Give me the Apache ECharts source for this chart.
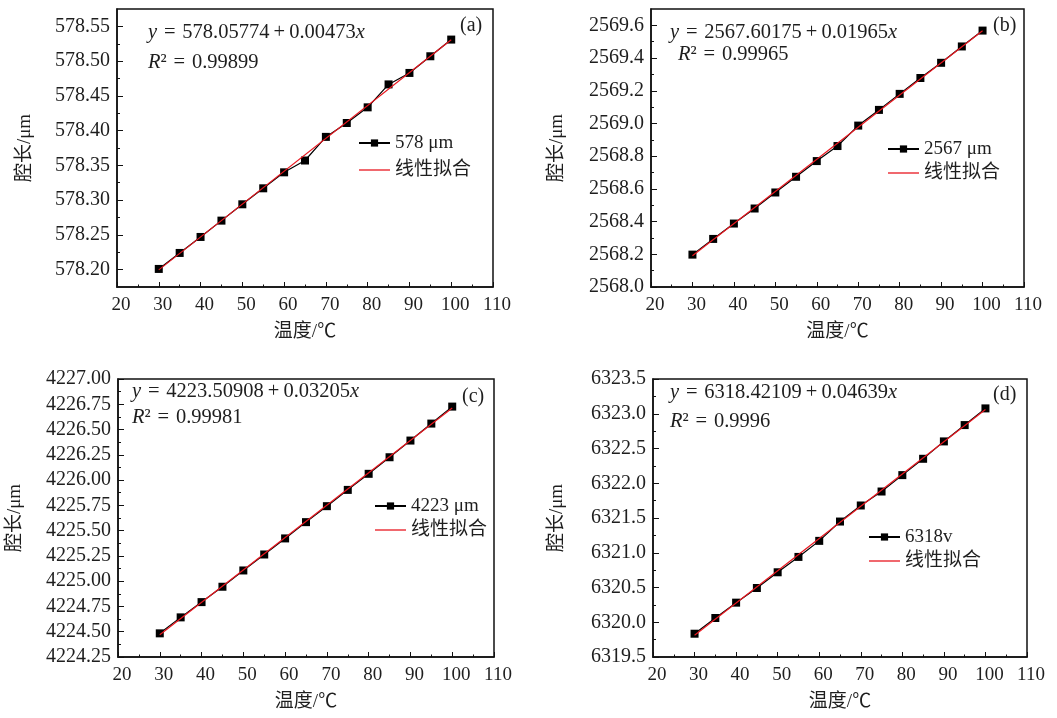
<!DOCTYPE html>
<html>
<head>
<meta charset="utf-8">
<script src="https://cdn.jsdelivr.net/npm/echarts@6/dist/echarts.min.js"></script>
<style>
html,body{margin:0;padding:0;background:#fff;}
#c{width:1057px;height:718px;}
</style>
</head>
<body>
<div id="c"></div>
<script>
// ---- data ----
const temps = [30, 35, 40, 45, 50, 55, 60, 65, 70, 75, 80, 85, 90, 95, 100];
const cavityA = [578.201, 578.224, 578.247, 578.2705, 578.294, 578.317, 578.340, 578.357, 578.391, 578.411, 578.4335, 578.4665, 578.483, 578.507, 578.531];
const cavityB = [2568.198, 2568.294, 2568.388, 2568.480, 2568.578, 2568.674, 2568.770, 2568.862, 2568.987, 2569.083, 2569.181, 2569.278, 2569.371, 2569.471, 2569.568];
const cavityC = [4224.484, 4224.642, 4224.793, 4224.945, 4225.106, 4225.264, 4225.423, 4225.584, 4225.742, 4225.903, 4226.062, 4226.226, 4226.391, 4226.559, 4226.727];
const cavityD = [6319.835, 6320.061, 6320.282, 6320.493, 6320.719, 6320.940, 6321.171, 6321.449, 6321.680, 6321.881, 6322.117, 6322.352, 6322.602, 6322.837, 6323.077];

const fitX = [30, 100];
const fitA = [578.19964, 578.53074];
const fitB = [2568.19125, 2569.56675];
const fitC = [4224.47058, 4226.71408];
const fitD = [6319.81279, 6323.06009];

const seriesNames = ['578 μm', '2567 μm', '4223 μm', '6318v'];
const fitName = '线性拟合';
const panelTags = ['(a)', '(b)', '(c)', '(d)'];
const equations = ['578.05774\u2009+\u20090.00473', '2567.60175\u2009+\u20090.01965', '4223.50908\u2009+\u20090.03205', '6318.42109\u2009+\u20090.04639'];
const rSquared = ['0.99899', '0.99965', '0.99981', '0.9996'];

const yTicksA = [578.20, 578.25, 578.30, 578.35, 578.40, 578.45, 578.50, 578.55];
const yMinorA = [578.225, 578.275, 578.325, 578.375, 578.425, 578.475, 578.525];
const yTicksB = [2568.0, 2568.2, 2568.4, 2568.6, 2568.8, 2569.0, 2569.2, 2569.4, 2569.6];
const yMinorB = [2568.1, 2568.3, 2568.5, 2568.7, 2568.9, 2569.1, 2569.3, 2569.5];
const yTicksC = [4224.25, 4224.50, 4224.75, 4225.00, 4225.25, 4225.50, 4225.75, 4226.00, 4226.25, 4226.50, 4226.75, 4227.00];
const yMinorC = [4224.375, 4224.625, 4224.875, 4225.125, 4225.375, 4225.625, 4225.875, 4226.125, 4226.375, 4226.625, 4226.875];
const yTicksD = [6319.5, 6320.0, 6320.5, 6321.0, 6321.5, 6322.0, 6322.5, 6323.0, 6323.5];
const yMinorD = [6319.75, 6320.25, 6320.75, 6321.25, 6321.75, 6322.25, 6322.75, 6323.25];
const yRanges = [[578.175, 578.575], [2568.0, 2569.7], [4224.25, 4227.0], [6319.5, 6323.5]];
const yDecimals = [2, 1, 2, 1];
const xRange = [20, 110];
const xStep = 10;

const xName = '温度/℃';
const yName = '腔长/μm';

// ---- layout ----
const SERIF = "'Liberation Serif', 'Noto Sans CJK SC', serif";
const TXT = '#1e1e1e';
const RED = '#e8171f';
const layouts = [
  {left: 117, top: 9, width: 376, height: 278, yGap: 82, leg: [358, 133, 7], eq: [148, 33], r2: [148, 63], tag: [460, 26]},
  {left: 651, top: 9, width: 373, height: 278, yGap: 84, leg: [887, 139, 4], eq: [670, 33], r2: [678, 55], tag: [993, 26]},
  {left: 118, top: 379, width: 376, height: 278, yGap: 93, leg: [374, 496, 4], eq: [132, 392], r2: [132, 418], tag: [462, 397]},
  {left: 653, top: 379, width: 374, height: 278, yGap: 86, leg: [868, 527, 4], eq: [670, 393], r2: [670, 422], tag: [993, 395]}
];

const cavities = [cavityA, cavityB, cavityC, cavityD];
const fits = [fitA, fitB, fitC, fitD];
const yTicks = [yTicksA, yTicksB, yTicksC, yTicksD];
const yMinors = [yMinorA, yMinorB, yMinorC, yMinorD];

const option = {
  animation: false,
  backgroundColor: '#fff',
  grid: [], xAxis: [], yAxis: [], series: [], legend: [], graphic: []
};

layouts.forEach((L, i) => {
  option.grid.push({left: L.left, top: L.top, width: L.width, height: L.height,
    show: true, borderColor: '#111', borderWidth: 1.5, backgroundColor: 'transparent', outerBoundsMode: 'none'});
  option.xAxis.push({
    type: 'value', gridIndex: i, min: xRange[0], max: xRange[1], interval: xStep,
    name: xName, nameLocation: 'middle', nameGap: 36,
    nameTextStyle: {fontFamily: SERIF, fontSize: 19, color: TXT},
    axisLine: {show: true, lineStyle: {color: '#111', width: 1.5}},
    axisTick: {show: true, inside: true, length: 5, lineStyle: {color: '#111', width: 1}},
    minorTick: {show: true, splitNumber: 2, length: 2.5, lineStyle: {color: '#111', width: 1}},
    axisLabel: {fontFamily: SERIF, fontSize: 19, color: TXT, margin: 9, padding: [0, 0, 0, 8], interval: 0, showMinLabel: true, showMaxLabel: true},
    splitLine: {show: false}
  });
  const fmt = v => Number(v).toFixed(yDecimals[i]);
  option.yAxis.push({
    type: 'value', gridIndex: i, min: yRanges[i][0], max: yRanges[i][1], position: 'left',
    name: yName, nameLocation: 'middle', nameGap: L.yGap, nameRotate: 90,
    nameTextStyle: {fontFamily: SERIF, fontSize: 19, color: TXT},
    axisLine: {show: true, lineStyle: {color: '#111', width: 1.5}},
    axisTick: {show: true, inside: true, length: 6, customValues: yTicks[i], lineStyle: {color: '#111', width: 1}},
    axisLabel: {fontFamily: SERIF, fontSize: 20, color: TXT, margin: 7, customValues: yTicks[i], formatter: fmt},
    splitLine: {show: false}
  });
  option.yAxis.push({
    type: 'value', gridIndex: i, min: yRanges[i][0], max: yRanges[i][1], position: 'left',
    axisLine: {show: false},
    axisTick: {show: true, inside: true, length: 3, customValues: yMinors[i], lineStyle: {color: '#111', width: 1}},
    axisLabel: {show: false},
    splitLine: {show: false}
  });
  const yIdx = i * 2;
  option.series.push({
    type: 'line', name: seriesNames[i], xAxisIndex: i, yAxisIndex: yIdx,
    data: temps.map((t, k) => [t, cavities[i][k]]),
    symbol: 'rect', symbolSize: 8, showSymbol: true,
    lineStyle: {color: '#000', width: 1.2}, itemStyle: {color: '#000'}, z: 2
  });
  option.series.push({
    type: 'line', name: fitName, xAxisIndex: i, yAxisIndex: yIdx,
    data: fitX.map((t, k) => [t, fits[i][k]]),
    symbol: 'none', lineStyle: {color: RED, width: 1.2}, itemStyle: {color: RED}, z: 3
  });
  option.legend.push({
    orient: 'vertical', left: L.leg[0], top: L.leg[1], itemGap: L.leg[2], padding: 0,
    itemWidth: 31, itemHeight: 9, selectedMode: false,
    data: [seriesNames[i], {name: fitName, icon: 'path://M0,0 L31,0 L31,1.3 L0,1.3 Z', itemStyle: {color: RED}}],
    textStyle: {fontFamily: SERIF, fontSize: 19, color: TXT, lineHeight: 20}
  });
  const richI = {fontFamily: SERIF, fontSize: 20.5, fontStyle: 'italic', fill: TXT, color: TXT};
  option.graphic.push({
    type: 'text', x: L.eq[0], y: L.eq[1], silent: true,
    style: {text: '{i|y}\u2004=\u2004' + equations[i] + '{i|x}', rich: {i: richI}, fontFamily: SERIF, fontSize: 20.5, fill: TXT, verticalAlign: 'middle'}
  });
  option.graphic.push({
    type: 'text', x: L.r2[0], y: L.r2[1], silent: true,
    style: {text: '{i|R}²\u2004=\u2004' + rSquared[i], rich: {i: richI}, fontFamily: SERIF, fontSize: 20.5, fill: TXT, verticalAlign: 'middle'}
  });
  option.graphic.push({
    type: 'text', x: L.tag[0], y: L.tag[1], silent: true,
    style: {text: panelTags[i], fontFamily: SERIF, fontSize: 20, fill: TXT, verticalAlign: 'middle'}
  });
});

const chart = echarts.init(document.getElementById('c'), null, {renderer: 'canvas'});
chart.setOption(option);
</script>
</body>
</html>
